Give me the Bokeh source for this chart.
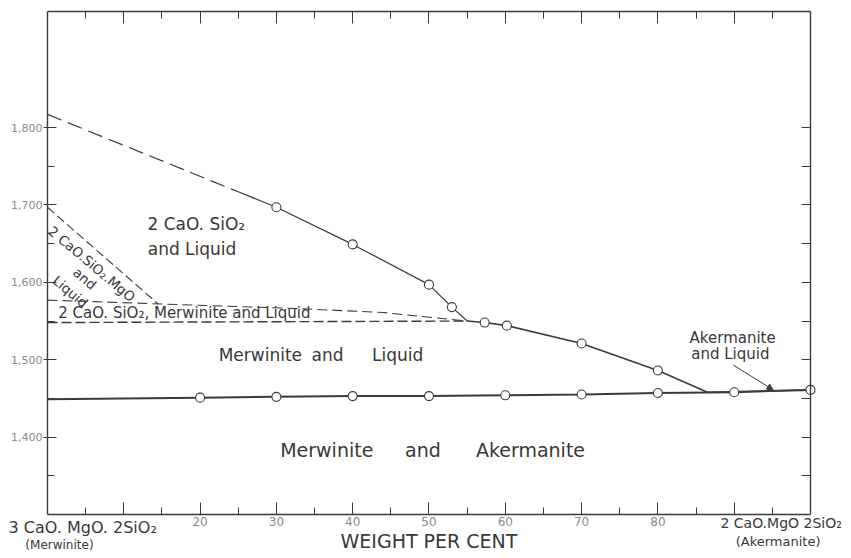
from bokeh.plotting import figure
from bokeh.models import (Range1d, LinearAxis, FixedTicker, Label, Arrow, NormalHead,
                          CustomLabelingPolicy)
from bokeh.embed import file_html
from bokeh.resources import INLINE

# ---------------- data ----------------
x_ticks = [10, 20, 30, 40, 50, 60, 70, 80, 90]
x_tick_labels = ["", "20", "30", "40", "50", "60", "70", "80", ""]
x_minor = [5, 15, 25, 35, 45, 55, 65, 75, 85, 95]
y_ticks = [1400, 1500, 1600, 1700, 1800]
y_tick_labels = ["1,400", "1,500", "1,600", "1,700", "1,800"]
y_minor = [1350, 1450, 1550, 1650, 1750]
y_right_ticks = [1350, 1400, 1450, 1500, 1550, 1600, 1650, 1700, 1750, 1800]

# liquidus of 2CaO.SiO2 (dashed extrapolation, then measured)
c2s_dash_x = [0, 25]
c2s_dash_y = [1817, 1717]
c2s_liq_x = [25, 30, 40, 50, 53, 55]
c2s_liq_y = [1717, 1697, 1649, 1597, 1568, 1550]
c2s_pts_x = [30, 40, 50, 53]
c2s_pts_y = [1697, 1649, 1597, 1568]

# liquidus of merwinite
merw_liq_x = [55, 57.3, 60.2, 70, 80, 86.5]
merw_liq_y = [1550, 1548, 1544, 1521, 1486, 1458]
merw_pts_x = [57.3, 60.2, 70, 80]
merw_pts_y = [1548, 1544, 1521, 1486]

# liquidus of akermanite
ak_liq_x = [86.5, 100]
ak_liq_y = [1458, 1461]

# solidus
solidus_x = [0, 20, 30, 40, 50, 60, 70, 80, 90, 100]
solidus_y = [1449, 1451, 1452, 1453, 1453, 1454, 1455, 1457, 1458, 1461]
solidus_pts_x = [20, 30, 40, 50, 60, 70, 80, 90, 100]
solidus_pts_y = [1451, 1452, 1453, 1453, 1454, 1455, 1457, 1458, 1461]

# dashed field boundaries
c2sm_x = [0, 14.5]
c2sm_y = [1697, 1572]
three_top_x = [0, 33, 44, 55]
three_top_y = [1577, 1566, 1561, 1550]
three_bot_x = [0, 55]
three_bot_y = [1548, 1550]

# ---------------- figure ----------------
INK = "#3a3a3a"
TXT = "#383838"
GREY = "#8a8a8a"
FONT = "DejaVu Sans"

X_MIN, X_MAX = 0, 100
Y_MIN, Y_MAX = 1300, 1950
# the frame spans the whole canvas; the chart box is drawn by four fixed axes
p = figure(width=846, height=556,
           x_range=Range1d(-6.16, 104.72), y_range=Range1d(1245.7, 1964.2),
           output_backend="svg", toolbar_location=None,
           min_border_left=0, min_border_right=0,
           min_border_top=0, min_border_bottom=0)
p.xgrid.visible = False
p.ygrid.visible = False
p.background_fill_color = "white"
p.border_fill_color = "white"
p.outline_line_color = None

# bottom axis
xa = p.xaxis[0]
xa.fixed_location = Y_MIN
xa.bounds = (X_MIN, X_MAX)
xa.ticker = FixedTicker(ticks=x_ticks, minor_ticks=x_minor)
xa.major_label_overrides = {t: l for t, l in zip(x_ticks, x_tick_labels)}
xa.major_tick_in = 12
xa.major_tick_out = 0
xa.minor_tick_in = 7
xa.minor_tick_out = 0
xa.major_tick_line_color = INK
xa.minor_tick_line_color = INK
xa.axis_line_color = INK
xa.axis_line_width = 1.4
xa.major_label_standoff = 3
xa.major_label_text_font = FONT
xa.major_label_text_font_size = "12px"
xa.major_label_text_color = GREY
xa.axis_label = "WEIGHT PER CENT"
xa.axis_label_text_font = FONT
xa.axis_label_text_font_style = "normal"
xa.axis_label_text_font_size = "19px"
xa.axis_label_text_color = TXT
xa.axis_label_standoff = 0

# left axis
ya = p.yaxis[0]
ya.fixed_location = X_MIN
ya.bounds = (Y_MIN, Y_MAX)
ya.ticker = FixedTicker(ticks=y_ticks, minor_ticks=y_minor)
ya.major_label_overrides = {t: l for t, l in zip(y_ticks, y_tick_labels)}
ya.major_tick_in = 9
ya.major_tick_out = 4
ya.minor_tick_in = 7
ya.minor_tick_out = 0
ya.major_tick_line_color = INK
ya.minor_tick_line_color = INK
ya.axis_line_color = INK
ya.axis_line_width = 1.4
ya.major_label_standoff = 1
ya.major_label_text_font = FONT
ya.major_label_text_font_size = "11px"
ya.major_label_text_color = GREY

# policy that shows no labels (for the tick-only top and right axes)
no_labels = CustomLabelingPolicy(code="for (const i of indices) { if (false) yield i }")

# top axis (ticks only)
top = LinearAxis(fixed_location=Y_MAX, bounds=(X_MIN, X_MAX),
                 ticker=FixedTicker(ticks=x_ticks, minor_ticks=x_minor),
                 major_tick_in=12, major_tick_out=0, minor_tick_in=7, minor_tick_out=0,
                 major_label_policy=no_labels, major_label_standoff=0,
                 axis_line_color=INK, axis_line_width=1.4,
                 major_tick_line_color=INK, minor_tick_line_color=INK)
p.add_layout(top, "above")

# right axis (ticks only)
right = LinearAxis(fixed_location=X_MAX, bounds=(Y_MIN, Y_MAX),
                   ticker=FixedTicker(ticks=y_right_ticks, minor_ticks=[]),
                   major_tick_in=9, major_tick_out=0, minor_tick_in=0, minor_tick_out=0,
                   major_label_policy=no_labels, major_label_standoff=0,
                   axis_line_color=INK, axis_line_width=1.4,
                   major_tick_line_color=INK)
p.add_layout(right, "right")

# ---------------- curves ----------------
p.line(c2s_dash_x, c2s_dash_y, line_color=INK, line_width=1.2, line_dash="15 7")
p.line(c2s_liq_x, c2s_liq_y, line_color=INK, line_width=1.2)
p.line(merw_liq_x, merw_liq_y, line_color=INK, line_width=1.6)
p.line(ak_liq_x, ak_liq_y, line_color=INK, line_width=1.4)
p.line(solidus_x, solidus_y, line_color=INK, line_width=2.0)
p.line(c2sm_x, c2sm_y, line_color=INK, line_width=1.1, line_dash="9 4")
p.line(three_top_x, three_top_y, line_color=INK, line_width=1.1, line_dash="10 5")
p.line(three_bot_x, three_bot_y, line_color=INK, line_width=1.4, line_dash="10 4")

for xs, ys in [(c2s_pts_x, c2s_pts_y), (merw_pts_x, merw_pts_y), (solidus_pts_x, solidus_pts_y)]:
    p.scatter(xs, ys, marker="circle", size=9, fill_color="white",
              line_color=INK, line_width=1.1)

p.add_layout(Arrow(end=NormalHead(size=6, fill_color=INK, line_color=INK),
                   x_start=89.9, y_start=1493, x_end=95.1, y_end=1461,
                   line_color=INK, line_width=1))

# ---------------- texts ----------------
def lab(x, y, text, size, align="center", angle=0.0, color=TXT):
    p.add_layout(Label(x=x, y=y, text=text, text_font=FONT, text_font_size=size,
                       text_align=align, text_baseline="middle", text_color=color,
                       angle=angle, angle_units="rad"))

lab(19.5, 1675, "2 CaO. SiO₂", "17px")
lab(19.3, 1643, "and  Liquid", "17px")
lab(5.8, 1624, "2 CaO.SiO₂.MgO", "13.5px", angle=-0.70)
lab(4.9, 1605, "and", "13.5px", angle=-0.70)
lab(3.0, 1588, "Liquid", "13.5px", angle=-0.70)
lab(1.4, 1561, "2 CaO. SiO₂, Merwinite and Liquid", "15px", align="left")
lab(27.9, 1506, "Merwinite", "17px")
lab(36.7, 1506, "and", "17px")
lab(45.9, 1506, "Liquid", "17px")
lab(36.6, 1383, "Merwinite", "19px")
lab(49.2, 1383, "and", "19px")
lab(63.3, 1383, "Akermanite", "19px")
lab(89.8, 1528, "Akermanite", "15px")
lab(89.5, 1508, "and Liquid", "15px")
lab(-5.1, 1283, "3 CaO. MgO. 2SiO₂", "16px", align="left")
lab(-2.9, 1261, "(Merwinite)", "12px", align="left")
lab(88.2, 1289, "2 CaO.MgO 2SiO₂", "14px", align="left")
lab(90.2, 1265, "(Akermanite)", "13px", align="left")

open("out.html", "w").write(file_html(p, INLINE))
